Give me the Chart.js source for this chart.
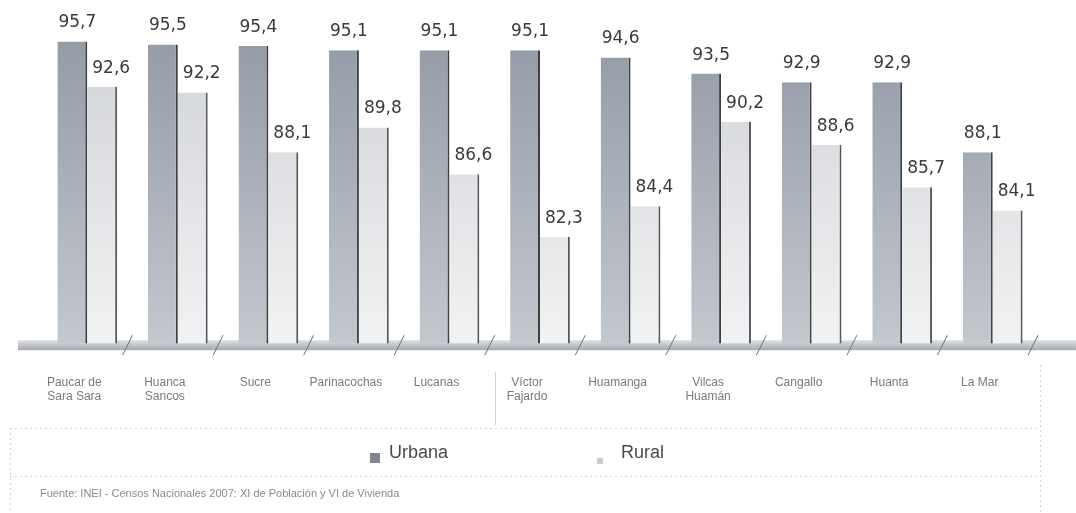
<!DOCTYPE html>
<html>
<head>
<meta charset="utf-8">
<script src="https://cdn.jsdelivr.net/npm/chart.js@4/dist/chart.umd.min.js"></script>
<style>
  html, body { margin: 0; padding: 0; background: #fff; }
  #wrap { width: 1076px; height: 513px; }
</style>
</head>
<body>
<div id="wrap"><canvas id="barras"></canvas></div>
<script>
const provincias = [
  ['Paucar de', 'Sara Sara'], ['Huanca', 'Sancos'], 'Sucre', 'Parinacochas', 'Lucanas',
  ['Víctor', 'Fajardo'], 'Huamanga', ['Vilcas', 'Huamán'], 'Cangallo', 'Huanta', 'La Mar'
];
const urbana = [95.7, 95.5, 95.4, 95.1, 95.1, 95.1, 94.6, 93.5, 92.9, 92.9, 88.1];
const rural = [92.6, 92.2, 88.1, 89.8, 86.6, 82.3, 84.4, 90.2, 88.6, 85.7, 84.1];
const fuente = 'Fuente: INEI - Censos Nacionales 2007: XI de Población y VI de Vivienda';

function formatNumber(n) {
  return n.toFixed(1).replace('.', ',');
}

function gradient(ctx, top, bottom) {
  const area = ctx.chart.chartArea;
  if (!area) return top;
  const g = ctx.chart.ctx.createLinearGradient(0, area.top, 0, area.bottom);
  g.addColorStop(0, top);
  g.addColorStop(1, bottom);
  return g;
}

// etiquetas de valor encima de cada barra
const valores = {
  id: 'valores',
  afterDatasetsDraw(chart) {
    const ctx = chart.ctx;
    ctx.save();
    ctx.font = '17px "DejaVu Sans"';
    ctx.fillStyle = '#3a3a3a';
    ctx.textAlign = 'left';
    ctx.textBaseline = 'bottom';
    chart.data.datasets.forEach((ds, i) => {
      chart.getDatasetMeta(i).data.forEach((bar, j) => {
        const dx = i === 0 ? 1 : 5;
        ctx.fillText(formatNumber(ds.data[j]), bar.x - bar.width / 2 + dx, bar.y - 10);
      });
    });
    ctx.restore();
  }
};

// piso, marco, leyenda y fuente
const piso = {
  id: 'piso',
  beforeDatasetsDraw(chart) {
    const ctx = chart.ctx;
    const area = chart.chartArea;
    const x = chart.scales.x;
    ctx.save();
    const g = ctx.createLinearGradient(0, area.bottom - 4, 0, area.bottom + 8);
    g.addColorStop(0, '#e4e6ea');
    g.addColorStop(1, '#9ea3ab');
    ctx.fillStyle = g;
    ctx.fillRect(18, area.bottom - 3, chart.width - 18, 10);
    ctx.strokeStyle = '#6d727a';
    ctx.lineWidth = 1;
    for (let k = 1; k <= provincias.length; k++) {
      const px = x.getPixelForValue(k) - x.width / provincias.length / 2 - 5;
      ctx.beginPath();
      ctx.moveTo(px - 5, area.bottom + 12);
      ctx.lineTo(px + 5, area.bottom - 8);
      ctx.stroke();
    }
    ctx.restore();
  },
  afterDraw(chart) {
    const ctx = chart.ctx;
    ctx.save();
    // líneas del marco
    ctx.strokeStyle = '#d4d4d4';
    ctx.setLineDash([2, 3]);
    ctx.beginPath();
    ctx.moveTo(10, 428.5); ctx.lineTo(1040, 428.5);
    ctx.moveTo(10, 476.5); ctx.lineTo(1040, 476.5);
    ctx.moveTo(1040.5, 365); ctx.lineTo(1040.5, 513);
    ctx.moveTo(10.5, 428); ctx.lineTo(10.5, 513);
    ctx.stroke();
    ctx.setLineDash([]);
    ctx.beginPath();
    ctx.moveTo(495.5, 372); ctx.lineTo(495.5, 425);
    ctx.stroke();
    // leyenda
    const items = [
      { x: 370, color: '#7e8590' },
      { x: 597, color: '#c9ccd1' }
    ];
    ctx.font = '18px "Liberation Sans"';
    ctx.textBaseline = 'middle';
    ctx.textAlign = 'left';
    chart.data.datasets.forEach((ds, i) => {
      const it = items[i];
      const size = i === 0 ? 10 : 6;
      ctx.fillStyle = it.color;
      ctx.fillRect(it.x, 458 - size / 2 + (i === 0 ? 0 : 3), size, size);
      ctx.fillStyle = '#4a4a4a';
      ctx.fillText(ds.label, it.x + (i === 0 ? 19 : 24), 453);
    });
    // fuente
    ctx.font = '11px "Liberation Sans"';
    ctx.fillStyle = '#8a8a8a';
    ctx.fillText(fuente, 40, 494);
    ctx.restore();
  }
};

const chart = new Chart(document.getElementById('barras'), {
  type: 'bar',
  data: {
    labels: provincias,
    datasets: [
      {
        label: 'Urbana',
        data: urbana,
        backgroundColor: (c) => gradient(c, '#8f97a4', '#c3c7ce'),
        borderColor: '#3c3f44',
        borderWidth: { top: 0, left: 0, bottom: 0, right: 2 },
        borderSkipped: false
      },
      {
        label: 'Rural',
        data: rural,
        backgroundColor: (c) => gradient(c, '#cdd0d5', '#f1f2f3'),
        borderColor: '#55585d',
        borderWidth: { top: 0, left: 0, bottom: 0, right: 2 },
        borderSkipped: false
      }
    ]
  },
  options: {
    responsive: true,
    maintainAspectRatio: false,
    animation: false,
    layout: { padding: { left: 42, right: 38, top: 8, bottom: 77 } },
    categoryPercentage: 0.66,
    barPercentage: 1,
    plugins: {
      legend: { display: false },
      tooltip: { enabled: false }
    },
    scales: {
      x: {
        grid: { display: false, drawTicks: false },
        border: { display: false },
        ticks: {
          padding: 32,
          labelOffset: -13,
          color: '#7a7a7a',
          font: { family: 'Liberation Sans', size: 12 },
          maxRotation: 0,
          autoSkip: false
        }
      },
      y: {
        display: false,
        min: 75,
        max: 98
      }
    }
  },
  plugins: [piso, valores]
});
</script>
</body>
</html>
